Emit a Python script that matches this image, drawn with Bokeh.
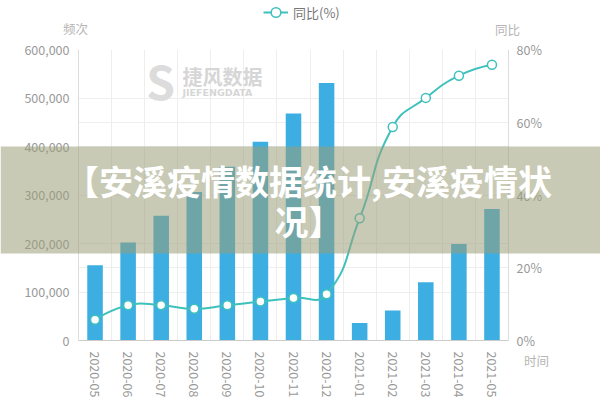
from math import hypot
from bokeh.plotting import figure
from bokeh.models import (Range1d, LinearAxis, FixedTicker, NumeralTickFormatter,
                          PrintfTickFormatter, Grid, Label, Legend, LegendItem,
                          ColumnDataSource, BoxAnnotation, GridBox, Column)
from bokeh.embed import file_html
from bokeh.resources import INLINE

# ---------------- data ----------------
months = ["2020-05", "2020-06", "2020-07", "2020-08", "2020-09", "2020-10", "2020-11",
          "2020-12", "2021-01", "2021-02", "2021-03", "2021-04", "2021-05"]
counts = [155000, 202000, 257000, 306000, 358000, 410000, 468000,
          531000, 36000, 62000, 120000, 199000, 271000]
yoy_pct = [5.7, 9.7, 9.7, 8.7, 9.7, 10.7, 11.7, 12.7, 33.6, 58.7, 66.7, 72.8, 75.8]
left_ticks = [0, 100000, 200000, 300000, 400000, 500000, 600000]
right_ticks = [0, 20, 40, 60, 80]
series_name = "同比(%)"
left_axis_name = "频次"
right_axis_name = "同比"
x_axis_name = "时间"
title_lines = ["【安溪疫情数据统计,安溪疫情状", "况】"]
watermark_cn = "捷风数据"
watermark_en = "JIEFENGDATA"

# ---------------- style ----------------
BAR = "#3daee2"
TEAL = "#3ec1bd"
FONT = "Noto Sans CJK SC"
W, H = 600, 400
FL, FR, FT, FB = 78, 508, 49, 341   # frame edges in canvas px

n = len(months)
x_lo, x_hi = -0.5, n - 0.5
y_hi = left_ticks[-1]
p_hi = right_ticks[-1]


def dx(px):
    return x_lo + (px - FL) * (x_hi - x_lo) / (FR - FL)


def dy(py):
    return (FB - py) * y_hi / (FB - FT)


p = figure(width=W, height=H, x_range=Range1d(x_lo, x_hi), y_range=Range1d(0, y_hi),
           output_backend="svg", toolbar_location=None,
           min_border_left=FL, min_border_right=W - FR, min_border_top=FT,
           min_border_bottom=H - FB)
p.extra_y_ranges = {"pct": Range1d(0, p_hi)}
p.outline_line_color = None
p.background_fill_color = "white"
p.border_fill_color = "white"

# axes
ya = p.yaxis[0]
ya.ticker = FixedTicker(ticks=left_ticks)
ya.formatter = NumeralTickFormatter(format="0,0")
xa = p.xaxis[0]
xa.ticker = FixedTicker(ticks=list(range(n)))
xa.major_label_overrides = {i: m for i, m in enumerate(months)}
xa.major_label_orientation = "vertical"
ra = LinearAxis(y_range_name="pct", ticker=FixedTicker(ticks=right_ticks),
                formatter=PrintfTickFormatter(format="%d%%"))
p.add_layout(ra, "right")
for ax in (ya, xa, ra):
    ax.major_tick_line_color = None
    ax.minor_tick_line_color = None
    ax.major_label_text_color = "#999999"
    ax.major_label_text_font = FONT
    ax.major_label_text_font_size = "12.5px"
    ax.axis_line_color = "#dddddd"
ya.major_label_standoff = 3
ra.major_label_standoff = 2
xa.axis_line_color = "#cccccc"
xa.major_label_standoff = 5

# grids
p.xgrid.ticker = FixedTicker(ticks=[i + 0.5 for i in range(-1, n)])
p.ygrid.ticker = FixedTicker(ticks=left_ticks)
p.xgrid.grid_line_color = "#eeeeee"
p.ygrid.grid_line_color = "#eeeeee"
g2 = Grid(dimension=1, ticker=FixedTicker(ticks=right_ticks), y_range_name="pct",
          grid_line_color="#eeeeee")
p.add_layout(g2)

# watermark (inside the frame)
p.add_layout(Label(x=dx(160), y=dy(80), text="S", text_align="center", text_baseline="middle",
                   text_font=FONT, text_font_size="46px", text_font_style="bold",
                   text_color="#dcdcdc", level="underlay"))
p.add_layout(Label(x=dx(182), y=dy(76), text=watermark_cn, text_align="left",
                   text_baseline="middle", text_font=FONT, text_font_size="20px",
                   text_font_style="bold", text_color="#d6d6d6", level="underlay"))
p.add_layout(Label(x=dx(182), y=dy(92), text=watermark_en, text_align="left",
                   text_baseline="middle", text_font="DejaVu Sans", text_font_size="9.5px",
                   text_font_style="bold", text_color="#d6d6d6", level="underlay"))

# bars
idx = list(range(n))
p.vbar(x=idx, top=counts, width=0.47, fill_color=BAR, line_color=None)

# smooth line (ECharts-like cubic bezier through the data points)
SX = (FR - FL) / (x_hi - x_lo)
SY = (FB - FT) / p_hi
P = [(i * SX, v * SY) for i, v in enumerate(yoy_pct)]
smooth = 0.5
cin, cout = [], []
for i in range(n):
    x, y = P[i]
    if i == 0 or i == n - 1:
        cin.append((x, y))
        cout.append((x, y))
        continue
    ax_, ay_ = P[i - 1]
    bx_, by_ = P[i + 1]
    vx, vy = (bx_ - ax_) * smooth, (by_ - ay_) * smooth
    d0 = hypot(x - ax_, y - ay_)
    d1 = hypot(bx_ - x, by_ - y)
    r0, r1 = d0 / (d0 + d1), d1 / (d0 + d1)
    cin.append((x - vx * r0, y - vy * r0))
    cout.append((x + vx * r1, y + vy * r1))
bz = ColumnDataSource(dict(
    x0=idx[:-1], y0=yoy_pct[:-1], x1=idx[1:], y1=yoy_pct[1:],
    cx0=[c[0] / SX for c in cout[:-1]], cy0=[c[1] / SY for c in cout[:-1]],
    cx1=[c[0] / SX for c in cin[1:]], cy1=[c[1] / SY for c in cin[1:]]))
p.bezier(x0="x0", y0="y0", x1="x1", y1="y1", cx0="cx0", cy0="cy0", cx1="cx1", cy1="cy1",
         source=bz, line_color=TEAL, line_width=2, y_range_name="pct")
pts = p.scatter(x=idx, y=yoy_pct, size=9, marker="circle", fill_color="white",
                line_color=TEAL, line_width=1.5, y_range_name="pct")

# ---------------- transparent overlay (canvas pixel coordinates) ----------------
ov = figure(width=W, height=H, x_range=Range1d(0, W), y_range=Range1d(H, 0),
            output_backend="svg", toolbar_location=None, min_border=0,
            x_axis_type=None, y_axis_type=None)
ov.outline_line_color = None
ov.background_fill_alpha = 0
ov.border_fill_alpha = 0

# legend proxies (kept outside the visible range; only their legend glyphs show)
leg_line = ov.line(x=[-20, -10], y=[-20, -20], line_color=TEAL, line_width=2)
leg_pt = ov.scatter(x=[-20], y=[-20], size=9, marker="circle", fill_color="white",
                    line_color=TEAL, line_width=1.5)
legend = Legend(items=[LegendItem(label=series_name, renderers=[leg_line, leg_pt])],
                location=(263, H - 24), orientation="horizontal", border_line_color=None,
                background_fill_alpha=0, padding=0, margin=0,
                glyph_width=25, glyph_height=24, label_height=24, label_standoff=5,
                label_text_font=FONT, label_text_font_size="13px",
                label_text_color="#777777")
ov.add_layout(legend)

for txt, cx, cy in ((left_axis_name, 75, 28), (right_axis_name, 507, 29),
                    (x_axis_name, 536, 360)):
    ov.add_layout(Label(x=cx, y=cy, text=txt, text_align="center", text_baseline="middle",
                        text_font=FONT, text_font_size="12.5px", text_color="#b5b5b5"))

ov.add_layout(BoxAnnotation(left=0, right=W, top=146, bottom=253, fill_color="#9a9f78",
                            fill_alpha=0.55, line_color=None))
for txt, cy in zip(title_lines, (180, 220)):
    ov.add_layout(Label(x=308, y=cy, text=txt, text_align="center", text_baseline="middle",
                        text_font=FONT, text_font_size="34px", text_font_style="bold",
                        text_color="white"))

layout = GridBox(children=[(p, 0, 0), (Column(children=[ov]), 0, 0)])
open("out.html", "w").write(file_html(layout, INLINE))
